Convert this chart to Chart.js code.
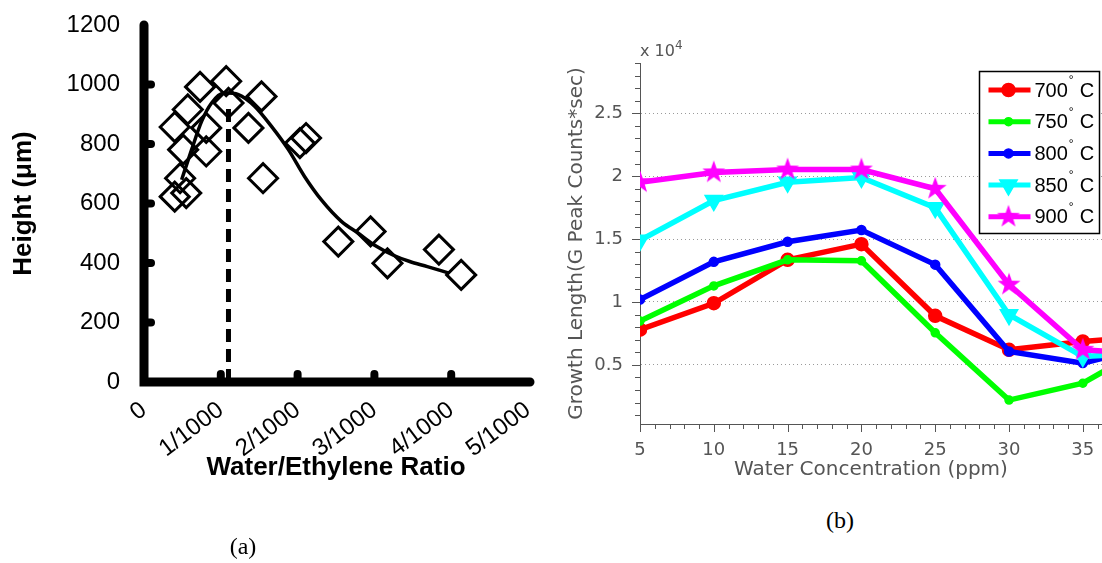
<!DOCTYPE html>
<html>
<head>
<meta charset="utf-8">
<script src="https://cdn.jsdelivr.net/npm/chart.js@4.4.1/dist/chart.umd.min.js"></script>
<style>
html,body{margin:0;padding:0;background:#fff;overflow:hidden;width:1102px;height:563px;}
#wrapA{position:absolute;left:0;top:0;width:558px;height:563px;}
#wrapB{position:absolute;left:545px;top:0;width:557px;height:500px;}
.cap{position:absolute;font-family:"Liberation Serif","Times New Roman",serif;font-size:24px;color:#000;transform:translate(-50%,-50%);white-space:nowrap;}
.exp{position:absolute;font-family:"DejaVu Sans",sans-serif;font-size:16px;line-height:16px;color:#555;white-space:nowrap;}
.exp span{position:relative;top:-7px;font-size:12px;}
</style>
</head>
<body>
<div id="wrapA"><canvas id="chartA" width="558" height="563"></canvas></div>
<div id="wrapB"><canvas id="chartB" width="557" height="500"></canvas></div>
<div class="cap" style="left:243px;top:546px">(a)</div>
<div class="cap" style="left:840px;top:520px">(b)</div>
<div class="exp" style="left:640px;top:43px">x 10<span>4</span></div>
<script>
// ---------- Panel (a) data ----------
const ratioTickLabels = ['0', '1/1000', '2/1000', '3/1000', '4/1000', '5/1000'];
const heightTicks = [0, 200, 400, 600, 800, 1000, 1200];
const diamondX = [0.40, 0.55, 0.47, 0.51, 0.40, 0.57, 0.73, 0.81, 0.81, 1.07, 1.10, 1.36, 1.53, 1.55, 2.03, 2.11, 2.53, 2.95, 3.17, 3.84, 4.13];
const diamondY = [623, 635, 685, 781, 857, 916, 992, 775, 854, 1011, 938, 854, 960, 685, 803, 820, 472, 506, 399, 445, 360];
const fitX = [0.49, 0.62, 0.75, 0.88, 1.05, 1.23, 1.44, 1.66, 1.88, 2.09, 2.31, 2.57, 2.79, 3.02, 3.24, 3.46, 3.69, 3.97];
const fitY = [680, 781, 876, 938, 972, 966, 927, 859, 781, 691, 612, 540, 500, 457, 427, 405, 388, 366];
const peakX = [1.10, 1.10];
const peakY = [0, 920];

// ---------- Panel (b) data ----------
const waterPpm = [5, 10, 15, 20, 25, 30, 35, 40];
const growth700 = [0.78, 0.99, 1.335, 1.46, 0.89, 0.62, 0.686, 0.73];
const growth750 = [0.848, 1.128, 1.335, 1.327, 0.755, 0.22, 0.354, 0.69];
const growth800 = [1.02, 1.319, 1.479, 1.572, 1.297, 0.606, 0.514, 0.66];
const growth850 = [1.49, 1.806, 1.952, 1.99, 1.75, 0.899, 0.566, 0.60];
const growth900 = [1.952, 2.03, 2.053, 2.053, 1.90, 1.138, 0.62, 0.58];
const seriesNames = ['700', '750', '800', '850', '900'];
const ppmTickLabels = [5, 10, 15, 20, 25, 30, 35];
const growthTickLabels = [0.5, 1, 1.5, 2, 2.5];

const pts = (xs, ys) => xs.map((x, i) => ({x: x, y: ys[i]}));

// ---------- Panel (a) ----------
const axesA = {
  id: 'axesA',
  afterDatasetsDraw(chart) {
    const {ctx, chartArea: ca, scales: {x, y}} = chart;
    ctx.save();
    ctx.strokeStyle = '#000';
    ctx.lineCap = 'round';
    ctx.lineJoin = 'miter';
    ctx.lineWidth = 9;
    ctx.beginPath();
    ctx.moveTo(ca.left, ca.top);
    ctx.lineTo(ca.left, ca.bottom);
    ctx.lineTo(ca.right + 2, ca.bottom);
    ctx.stroke();
    ctx.lineWidth = 8;
    heightTicks.slice(1, -1).forEach(v => {
      const py = y.getPixelForValue(v);
      ctx.beginPath(); ctx.moveTo(ca.left, py); ctx.lineTo(ca.left + 7, py); ctx.stroke();
    });
    ratioTickLabels.forEach((lab, i) => {
      if (i === 0 || i === ratioTickLabels.length - 1) return;
      const px = x.getPixelForValue(i);
      ctx.beginPath(); ctx.moveTo(px, ca.bottom); ctx.lineTo(px, ca.bottom - 8); ctx.stroke();
    });
    ctx.restore();
  }
};

new Chart(document.getElementById('chartA'), {
  type: 'scatter',
  data: {
    datasets: [
      {
        label: 'data', data: pts(diamondX, diamondY), showLine: false,
        pointStyle: 'rectRot', pointRadius: 14.5, borderWidth: 3,
        borderColor: '#000', backgroundColor: 'rgba(0,0,0,0)'
      },
      {
        label: 'fit', data: pts(fitX, fitY), showLine: true, pointRadius: 0,
        borderColor: '#000', borderWidth: 3.5, tension: 0.4, cubicInterpolationMode: 'monotone'
      },
      {
        label: 'peak', data: pts(peakX, peakY), showLine: true, pointRadius: 0,
        borderColor: '#000', borderWidth: 5, borderDash: [13, 7]
      }
    ]
  },
  options: {
    responsive: false, animation: false, devicePixelRatio: 1,
    layout: {autoPadding: false, padding: {left: 0, top: 25, right: 30, bottom: 0}},
    plugins: {legend: {display: false}, tooltip: {enabled: false}},
    scales: {
      x: {
        type: 'linear', min: 0, max: ratioTickLabels.length - 1,
        afterBuildTicks: s => { s.ticks = ratioTickLabels.map((_, i) => ({value: i})); },
        afterFit: s => { s.height = 181; s.paddingLeft = 0; s.paddingRight = 0; },
        grid: {display: false, drawTicks: false},
        border: {display: false},
        ticks: {
          autoSkip: false, minRotation: 37, maxRotation: 37, padding: 14,
          color: '#000', font: {family: 'Liberation Sans', size: 24},
          callback: (v, i) => ratioTickLabels[i]
        },
        title: {
          display: true, text: 'Water/Ethylene Ratio', color: '#000',
          font: {family: 'Liberation Sans', size: 26, weight: 'bold'},
          padding: {top: 0, bottom: 80}
        }
      },
      y: {
        type: 'linear', min: heightTicks[0], max: heightTicks[heightTicks.length - 1],
        afterBuildTicks: s => { s.ticks = heightTicks.map(v => ({value: v})); },
        afterFit: s => { s.width = 144; s.paddingTop = 0; s.paddingBottom = 0; },
        grid: {display: false, drawTicks: false},
        border: {display: false},
        ticks: {
          padding: 24, color: '#000', font: {family: 'Liberation Sans', size: 24},
          callback: v => String(v)
        },
        title: {
          display: true, text: 'Height (μm)', color: '#000',
          font: {family: 'Liberation Sans', size: 26, weight: 'bold'},
          padding: {top: 8, bottom: 0}
        }
      }
    }
  },
  plugins: [axesA]
});

// ---------- Panel (b) ----------
const seriesColors = ['#ff0000', '#00ff00', '#0000ff', '#00ffff', '#ff00ff'];

function starImage(r, color) {
  const c = document.createElement('canvas');
  const s = Math.ceil(r * 2 + 2);
  c.width = s; c.height = s;
  const g = c.getContext('2d');
  g.fillStyle = color;
  g.beginPath();
  for (let i = 0; i < 10; i++) {
    const rr = (i % 2) ? r * 0.40 : r;
    const a = -Math.PI / 2 + i * Math.PI / 5;
    g.lineTo(s / 2 + rr * Math.cos(a), s / 2 + rr * Math.sin(a));
  }
  g.closePath();
  g.fill();
  return c;
}
const starPt = starImage(12, '#ff00ff');

const markerStyles = [
  {pointStyle: 'circle', radius: 6.5, rotation: 0},
  {pointStyle: 'circle', radius: 4, rotation: 0},
  {pointStyle: 'circle', radius: 4.5, rotation: 0},
  {pointStyle: 'triangle', radius: 10, rotation: 180},
  {pointStyle: starPt, radius: 12, rotation: 0}
];

const seriesData = [growth700, growth750, growth800, growth850, growth900];

const datasetsB = seriesData.map((vals, i) => ({
  label: seriesNames[i],
  data: pts(waterPpm, vals),
  showLine: true,
  borderColor: seriesColors[i],
  backgroundColor: seriesColors[i],
  borderWidth: 5.5,
  pointStyle: markerStyles[i].pointStyle,
  pointRadius: markerStyles[i].radius,
  pointRotation: markerStyles[i].rotation,
  pointBorderWidth: 1.5,
  tension: 0,
  order: seriesData.length - i
}));

function drawMarker(ctx, i, x, y) {
  const m = markerStyles[i];
  ctx.save();
  ctx.fillStyle = seriesColors[i];
  ctx.strokeStyle = seriesColors[i];
  ctx.lineWidth = 1.5;
  if (m.pointStyle === 'circle') {
    ctx.beginPath(); ctx.arc(x, y, m.radius, 0, Math.PI * 2); ctx.fill(); ctx.stroke();
  } else if (m.pointStyle === 'triangle') {
    const r = m.radius;
    ctx.beginPath();
    for (let k = 0; k < 3; k++) {
      const a = Math.PI + k * 2 * Math.PI / 3;
      ctx.lineTo(x + Math.sin(a) * r, y - Math.cos(a) * r);
    }
    ctx.closePath(); ctx.fill(); ctx.stroke();
  } else {
    const img = m.pointStyle;
    ctx.drawImage(img, x - img.width / 2, y - img.height / 2);
  }
  ctx.restore();
}

const ticksLegendB = {
  id: 'ticksLegendB',
  afterDraw(chart) {
    const {ctx, chartArea: ca, scales: {x, y}} = chart;
    ctx.save();
    ctx.strokeStyle = '#555';
    ctx.lineWidth = 1;
    for (let v = Math.ceil(x.min); v <= x.max; v++) {
      const px = Math.round(x.getPixelForValue(v)) + 0.5;
      const len = ppmTickLabels.includes(v) ? 8 : 5;
      ctx.beginPath(); ctx.moveTo(px, ca.bottom); ctx.lineTo(px, ca.bottom + len); ctx.stroke();
    }
    for (let k = 1; k / 10 <= y.max + 1e-9; k++) {
      const v = k / 10;
      if (v < y.min) continue;
      const py = Math.round(y.getPixelForValue(v)) + 0.5;
      const major = growthTickLabels.some(t => Math.abs(t - v) < 1e-9);
      const len = major ? 8 : 5;
      ctx.beginPath(); ctx.moveTo(ca.left, py); ctx.lineTo(ca.left - len, py); ctx.stroke();
    }
    // legend box
    const bw = 120, bh = 162;
    const bx = ca.right - 2.5 - bw, by = ca.top + 8.5;
    ctx.fillStyle = '#fff';
    ctx.fillRect(bx, by, bw, bh);
    ctx.strokeStyle = '#000';
    ctx.lineWidth = 1.5;
    ctx.strokeRect(bx, by, bw, bh);
    seriesNames.forEach((name, i) => {
      const ry = by + 18.5 + i * 31.7;
      ctx.strokeStyle = seriesColors[i];
      ctx.lineWidth = 5;
      ctx.beginPath(); ctx.moveTo(bx + 9, ry); ctx.lineTo(bx + 51, ry); ctx.stroke();
      drawMarker(ctx, i, bx + 29, ry);
      ctx.fillStyle = '#000';
      ctx.textBaseline = 'middle';
      ctx.textAlign = 'left';
      ctx.font = '20px "Liberation Sans"';
      const tx = bx + 55;
      ctx.fillText(name, tx, ry + 1);
      const w = ctx.measureText(name).width;
      ctx.font = '12px "Liberation Sans"';
      ctx.fillText('°', tx + w + 1, ry - 9);
      ctx.font = '20px "Liberation Sans"';
      ctx.fillText('C', tx + w + 12, ry + 1);
    });
    ctx.restore();
  }
};

new Chart(document.getElementById('chartB'), {
  type: 'scatter',
  data: {datasets: datasetsB},
  options: {
    responsive: false, animation: false, devicePixelRatio: 1,
    layout: {autoPadding: false, padding: {left: 0, top: 63, right: 0, bottom: 0}},
    plugins: {legend: {display: false}, tooltip: {enabled: false}},
    scales: {
      x: {
        type: 'linear', min: 5, max: 36.3,
        afterBuildTicks: s => { s.ticks = ppmTickLabels.map(v => ({value: v})); },
        afterFit: s => { s.height = 76; s.paddingLeft = 0; s.paddingRight = 0; },
        grid: {display: false, drawTicks: false},
        border: {display: true, color: '#555', width: 1},
        ticks: {
          autoSkip: false, maxRotation: 0, padding: 16, color: '#555',
          font: {family: 'DejaVu Sans', size: 18},
          callback: v => String(v)
        },
        title: {
          display: true, text: 'Water Concentration (ppm)', color: '#555',
          font: {family: 'DejaVu Sans', size: 20},
          padding: {top: 0, bottom: 18}
        }
      },
      y: {
        type: 'linear', min: 0.03, max: 2.9,
        afterBuildTicks: s => { s.ticks = growthTickLabels.map(v => ({value: v})); },
        afterFit: s => { s.width = 95; s.paddingTop = 0; s.paddingBottom = 0; },
        grid: {display: true, drawTicks: false, drawOnChartArea: true, color: '#9a9a9a', lineWidth: 1},
        border: {display: true, color: '#555', width: 1, dash: [1, 3]},
        ticks: {
          autoSkip: false, padding: 17, color: '#555',
          font: {family: 'DejaVu Sans', size: 18},
          callback: v => String(v)
        },
        title: {
          display: true, text: 'Growth Length(G Peak Counts*sec)', color: '#555',
          font: {family: 'DejaVu Sans', size: 20},
          padding: {top: 20, bottom: 0}
        }
      }
    }
  },
  plugins: [ticksLegendB]
});
</script>
</body>
</html>
